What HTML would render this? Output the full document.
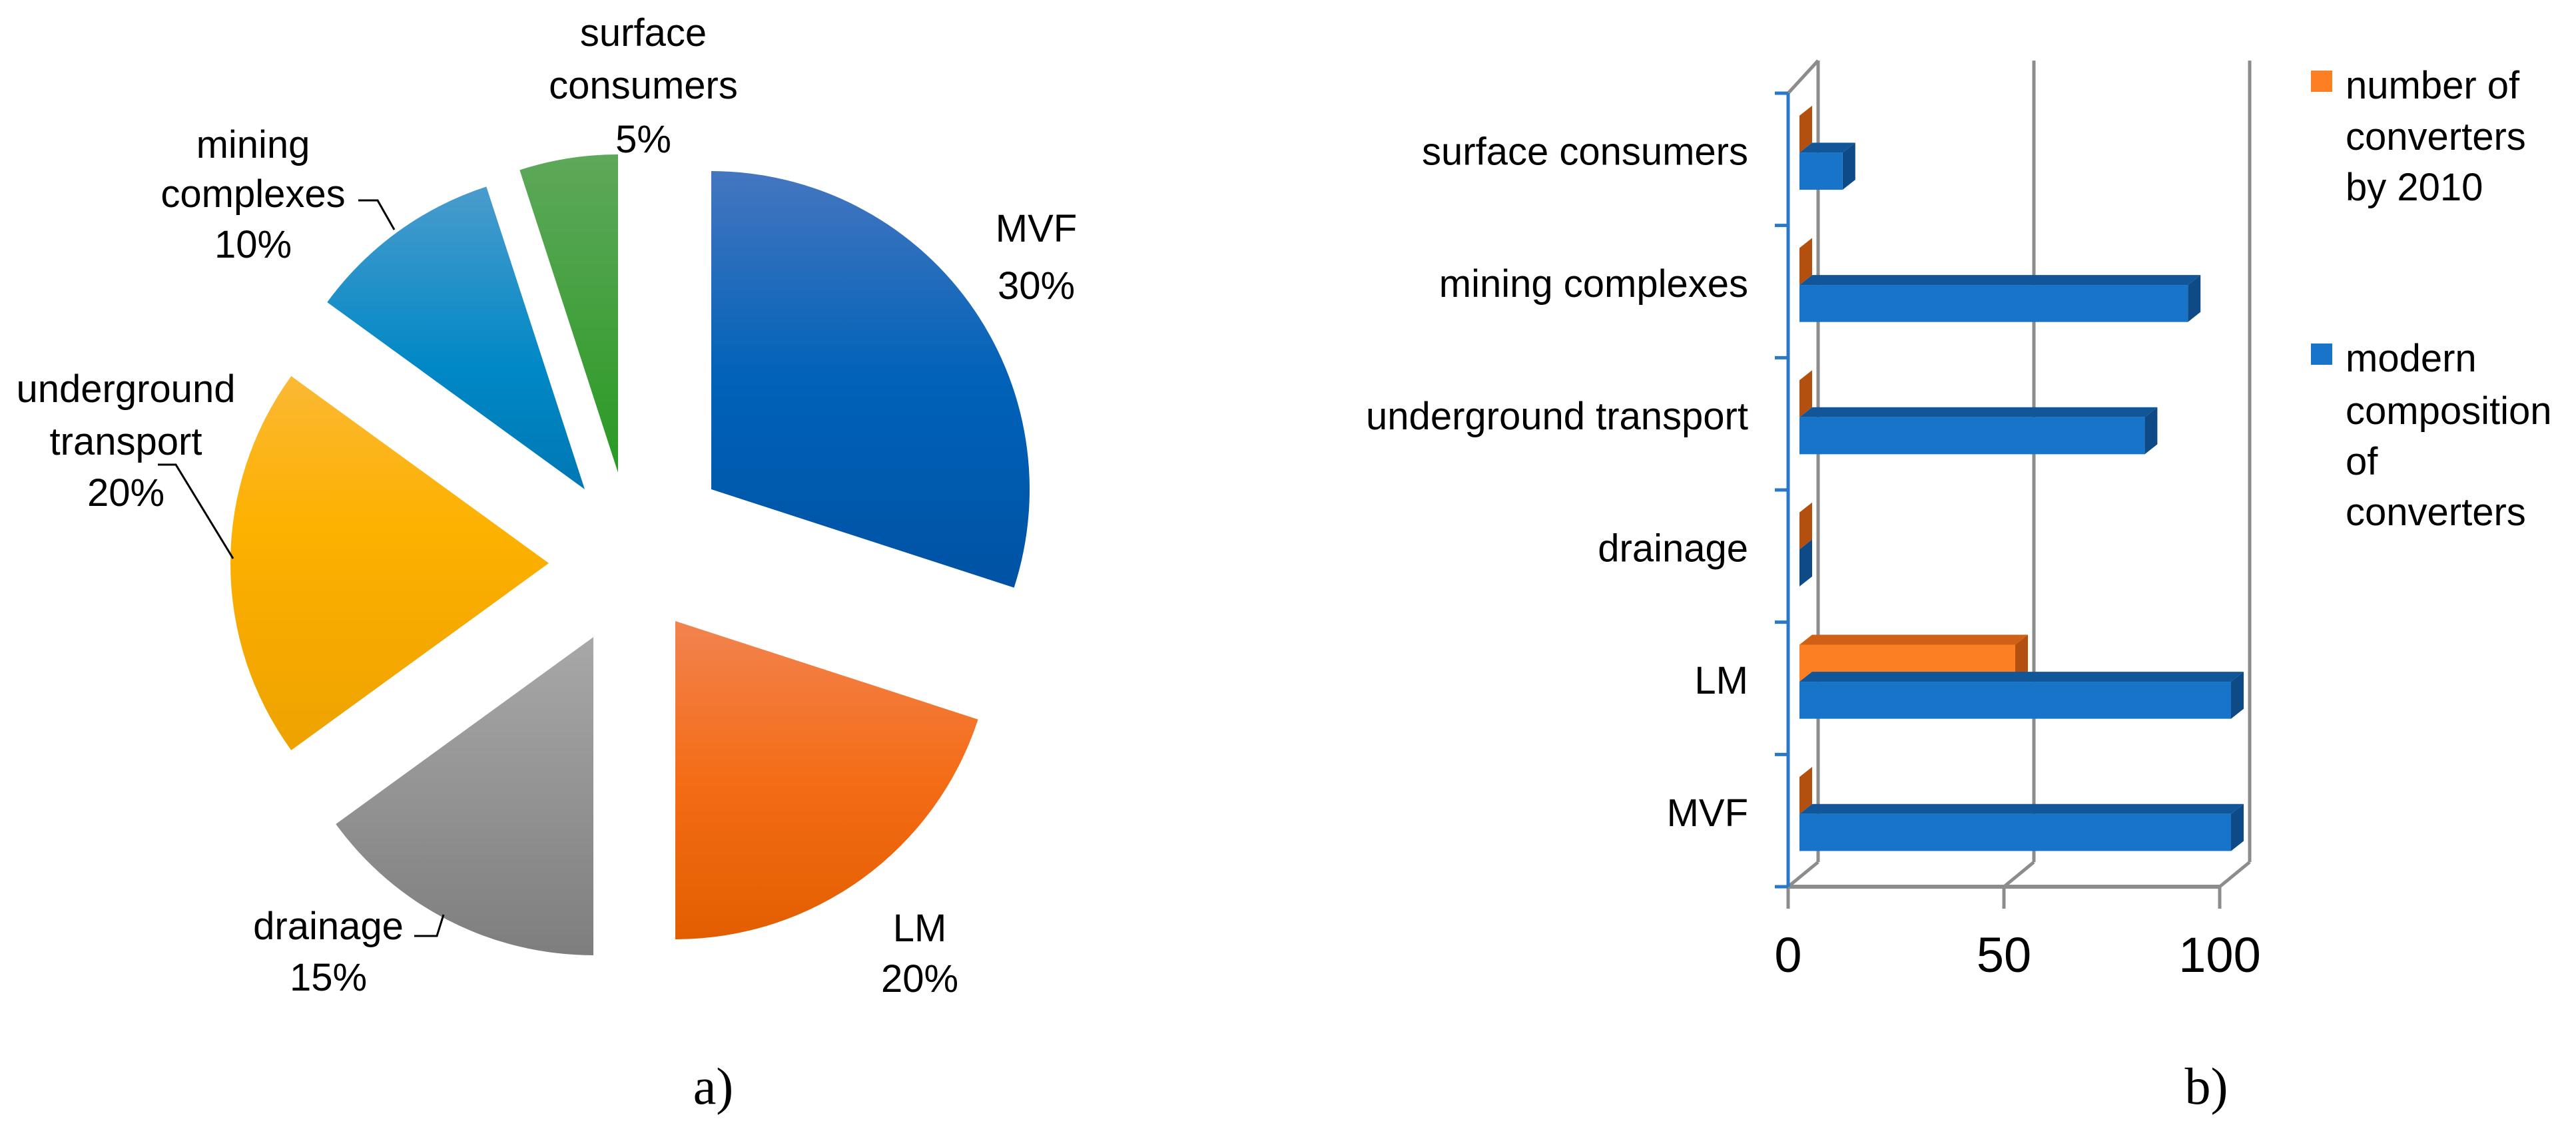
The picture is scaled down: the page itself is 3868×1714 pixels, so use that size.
<!DOCTYPE html>
<html><head><meta charset="utf-8"><style>
html,body{margin:0;padding:0;background:#fff;}
svg{display:block;}
text{font-family:"Liberation Sans",sans-serif;fill:#000;}
</style></head><body>
<svg id="root" width="3868" height="1714" viewBox="0 0 3868 1714" xmlns="http://www.w3.org/2000/svg">
<defs>
<linearGradient id="gMVF" x1="0" y1="0" x2="0" y2="1"><stop offset="0" stop-color="#4576c0"/><stop offset="0.5" stop-color="#0062b8"/><stop offset="1" stop-color="#0052a4"/></linearGradient>
<linearGradient id="gLM" x1="0" y1="0" x2="0" y2="1"><stop offset="0" stop-color="#f2834f"/><stop offset="0.5" stop-color="#f46c16"/><stop offset="1" stop-color="#e35e00"/></linearGradient>
<linearGradient id="gDR" x1="0" y1="0" x2="0" y2="1"><stop offset="0" stop-color="#a8a8a8"/><stop offset="1" stop-color="#7e7e7e"/></linearGradient>
<linearGradient id="gUT" x1="0" y1="0" x2="0" y2="1"><stop offset="0" stop-color="#fbb834"/><stop offset="0.4" stop-color="#fdb100"/><stop offset="1" stop-color="#eea200"/></linearGradient>
<linearGradient id="gMC" x1="0" y1="0" x2="0" y2="1"><stop offset="0" stop-color="#4a9ccc"/><stop offset="0.6" stop-color="#0088c6"/><stop offset="1" stop-color="#0078b4"/></linearGradient>
<linearGradient id="gSC" x1="0" y1="0" x2="0" y2="1"><stop offset="0" stop-color="#5ea85a"/><stop offset="1" stop-color="#2a9a24"/></linearGradient>
</defs>
<g id="pie"></g>
<g id="bars"></g>
<text x="1071" y="1658" text-anchor="middle" style="font-family:'Liberation Serif',serif;font-size:78px">a)</text>
<text x="3313" y="1658" text-anchor="middle" style="font-family:'Liberation Serif',serif;font-size:78px">b)</text>
</svg>
<script>
const NS="http://www.w3.org/2000/svg";
// ---- pie data ----
const pieLabels=["MVF","LM","drainage","underground transport","mining complexes","surface consumers"];
const pieValues=[30,20,15,20,10,5];
// ---- bar data ----
const barCategories=["MVF","LM","drainage","underground transport","mining complexes","surface consumers"];
const seriesModern=[100,100,0,80,90,10];
const seriesBy2010=[0,50,0,0,0,0];
const xTicks=[0,50,100];

function mk(tag,attrs,parent){const e=document.createElementNS(NS,tag);for(const k in attrs)e.setAttribute(k,attrs[k]);parent.appendChild(e);return e;}

// ---- pie ----
const pie=document.getElementById('pie');
const apexes=[[1068,735],[1014,933],[891,957],[824,846],[878,735],[928,710]];
const grads=["gMVF","gLM","gDR","gUT","gMC","gSC"];
const R=478;
const total=pieValues.reduce((a,b)=>a+b,0);
let ang=-90;
pieValues.forEach((v,i)=>{
  const a0=ang, a1=ang+v/total*360; ang=a1;
  const [cx,cy]=apexes[i];
  const r0=a0*Math.PI/180, r1=a1*Math.PI/180;
  const x0=cx+R*Math.cos(r0), y0=cy+R*Math.sin(r0), x1=cx+R*Math.cos(r1), y1=cy+R*Math.sin(r1);
  const large=(a1-a0)>180?1:0;
  const p=mk('path',{d:`M${cx},${cy} L${x0},${y0} A${R},${R} 0 ${large} 1 ${x1},${y1} Z`,fill:`url(#${grads[i]})`},pie);
  
  
});
const pieLabelLines=[
  [1556,[363,449],["MVF","30%"]],
  [1381,[1414,1490],["LM","20%"]],
  [493,[1411,1488],["drainage","15%"]],
  [189,[604,683,760],["underground","transport","20%"]],
  [380,[237,311,387],["mining","complexes","10%"]],
  [966,[69,148,229],["surface","consumers","5%"]]
];
pieLabelLines.forEach((L,i)=>{
  const t=mk('text',{x:L[0],'text-anchor':'middle','font-size':'58'},pie);
  
  
  L[2].forEach((s,j)=>{const ts=mk('tspan',{x:L[0],y:L[1][j]},t);ts.textContent=s;});
});
[["538,301 567,301 592,345","leader-mining"],["237,698 264,698 350,839","leader-underground"],["622,1406 656,1406 666,1374","leader-drainage"]].forEach(l=>{
  const p=mk('polyline',{points:l[0],fill:'none',stroke:'#000','stroke-width':'3'},pie);
  
  
});

// ---- bars ----
const bars=document.getElementById('bars');
const X0=2685, X100=3333, DX=45, DY=-37;
const xs=v=>X0+(v/100)*(X100-X0);
const floorY=1332, topTick=140, band=(floorY-topTick)/6;
const bandTop=i=>floorY-(i+1)*band; // i=0 is MVF (bottom)
const gray='#8c8c8c';
xTicks.forEach(t=>{
  const g=mk('line',{x1:xs(t)+DX,y1:91,x2:xs(t)+DX,y2:floorY+DY,stroke:gray,'stroke-width':5},bars);
  
  
  const d=mk('line',{x1:xs(t),y1:floorY,x2:xs(t)+DX,y2:floorY+DY,stroke:gray,'stroke-width':5},bars);
  
  
  const tk=mk('line',{x1:xs(t),y1:floorY,x2:xs(t),y2:floorY+33,stroke:gray,'stroke-width':5},bars);
  
  
  const tl=mk('text',{x:xs(t),y:1460,'text-anchor':'middle','font-size':'74'},bars);
  tl.textContent=t;
  
  
});
const topDiag=mk('line',{x1:X0,y1:topTick,x2:X0+DX,y2:91,stroke:gray,'stroke-width':5},bars);


const floorLine=mk('line',{x1:X0,y1:floorY,x2:X100,y2:floorY,stroke:gray,'stroke-width':6},bars);


const BDX=19, BDY=-15, bx0=2702;
const bw=v=>v/100*(X100-X0);
function bar(i,v,f0,f1,front,top,side,name){
  const y0=bandTop(i)+f0*band, y1=bandTop(i)+f1*band, xe=bx0+bw(v);
  const g=mk('g',{},bars);
  
  
  mk('polygon',{points:`${bx0},${y0} ${bx0+BDX},${y0+BDY} ${xe+BDX},${y0+BDY} ${xe},${y0}`,fill:top},g);
  mk('polygon',{points:`${xe},${y0} ${xe+BDX},${y0+BDY} ${xe+BDX},${y1+BDY} ${xe},${y1}`,fill:side},g);
  if(v>0) mk('rect',{x:bx0,y:y0,width:bw(v),height:y1-y0,fill:front},g);
}
barCategories.forEach((c,i)=>{
  const slug=c.replace(/ /g,'-').toLowerCase();
  bar(i,seriesBy2010[i],0.17,0.45,'#fd7f23','#cf6016','#b3500f','bar-2010-'+slug);
  bar(i,seriesModern[i],0.45,0.73,'#1874c8','#12569a','#0e4a86','bar-modern-'+slug);
  const t=mk('text',{x:2625,y:bandTop(i)+0.43*band+22,'text-anchor':'end','font-size':'58'},bars);
  t.textContent=c;
  
  
});
const yax=mk('line',{x1:X0,y1:topTick,x2:X0,y2:floorY,stroke:'#2a78c8','stroke-width':5},bars);


for(let k=0;k<=6;k++){
  const y=topTick+k*band;
  const tk=mk('line',{x1:X0-20,y1:y,x2:X0,y2:y,stroke:'#2a78c8','stroke-width':5},bars);
  
  
}
const leg=[["#fd7f23",106,[148,225,301],["number of","converters","by 2010"],"legend-entry-2010"],["#1874c8",516,[558,637,713,789],["modern","composition","of","converters"],"legend-entry-modern"]];
leg.forEach(L=>{
  const g=mk('g',{},bars);
  
  
  mk('rect',{x:3470,y:L[1],width:32,height:32,fill:L[0]},g);
  const t=mk('text',{x:3522,'font-size':'58'},g);
  L[3].forEach((s,j)=>{const ts=mk('tspan',{x:3522,y:L[2][j]},t);ts.textContent=s;});
});
</script>
</body></html>
